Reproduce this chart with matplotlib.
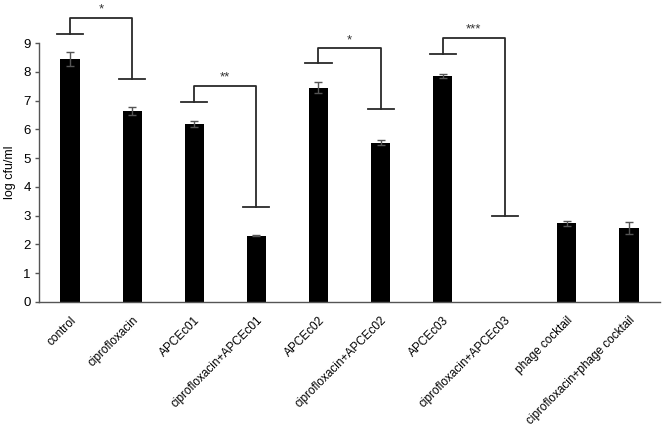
import numpy as np
import matplotlib
matplotlib.use('Agg')
import matplotlib.pyplot as plt

plt.rcParams['font.family'] = ['Liberation Sans', 'DejaVu Sans']

groups = ['control', 'ciprofloxacin', 'APCEc01', 'ciprofloxacin+APCEc01',
          'APCEc02', 'ciprofloxacin+APCEc02', 'APCEc03', 'ciprofloxacin+APCEc03',
          'phage cocktail', 'ciprofloxacin+phage cocktail']
means = [8.45, 6.64, 6.19, 2.31, 7.45, 5.54, 7.87, 0.0, 2.73, 2.56]
errs = [0.25, 0.14, 0.11, 0.02, 0.18, 0.08, 0.07, 0.0, 0.08, 0.21]

# significance brackets: (left bar, right bar, left y, top y, right y, label)
brackets = [
    (0, 1, 9.31, 9.88, 7.74, '*'),
    (2, 3, 6.96, 7.52, 3.31, '**'),
    (4, 5, 8.30, 8.81, 6.69, '*'),
    (6, 7, 8.63, 9.19, 3.00, '***'),
]

fig = plt.figure(figsize=(6.66, 4.28), dpi=100)
ax = fig.add_axes([0.0586, 0.2944, 0.9324, 0.6051])

x = np.arange(len(groups))
ax.bar(x, means, width=0.31, color='black', zorder=2)
has_err = [i for i in x if errs[i] > 0]
ax.errorbar(x[has_err], np.array(means)[has_err], yerr=np.array(errs)[has_err],
            fmt='none', ecolor='#555555', elinewidth=1, capsize=3, capthick=1,
            zorder=3)

ax.set_xlim(-0.5, 9.5)
ax.set_ylim(0, 9)
ax.set_yticks(range(10))
ax.set_xticks(x)
ax.set_xticklabels(groups, rotation=45, ha='right', rotation_mode='anchor',
                   fontsize=8.5)
ax.tick_params(axis='x', length=0, pad=9)
ax.tick_params(axis='y', length=3, width=1, color='#555555', labelsize=9.5, pad=3)
ax.set_ylabel('log cfu/ml', fontsize=9, labelpad=5)

for s in ['top', 'right']:
    ax.spines[s].set_visible(False)
for s in ['left', 'bottom']:
    ax.spines[s].set_color('#555555')
    ax.spines[s].set_linewidth(1)

hw = 0.21
lc = '#2a2a2a'
for a, b, yl, yt, yr, lab in brackets:
    ax.plot([a - hw, a + hw], [yl, yl], color=lc, lw=1.3, clip_on=False)
    ax.plot([a, a, b, b], [yl, yt, yt, yr], color=lc, lw=1.3, clip_on=False)
    ax.plot([b - hw, b + hw], [yr, yr], color=lc, lw=1.3, clip_on=False)
    ax.text((a + b) / 2, yt + 0.08, lab, ha='center', va='bottom',
            fontsize=9.5, color='#333333', clip_on=False)

fig.savefig('out.png', dpi=100)
